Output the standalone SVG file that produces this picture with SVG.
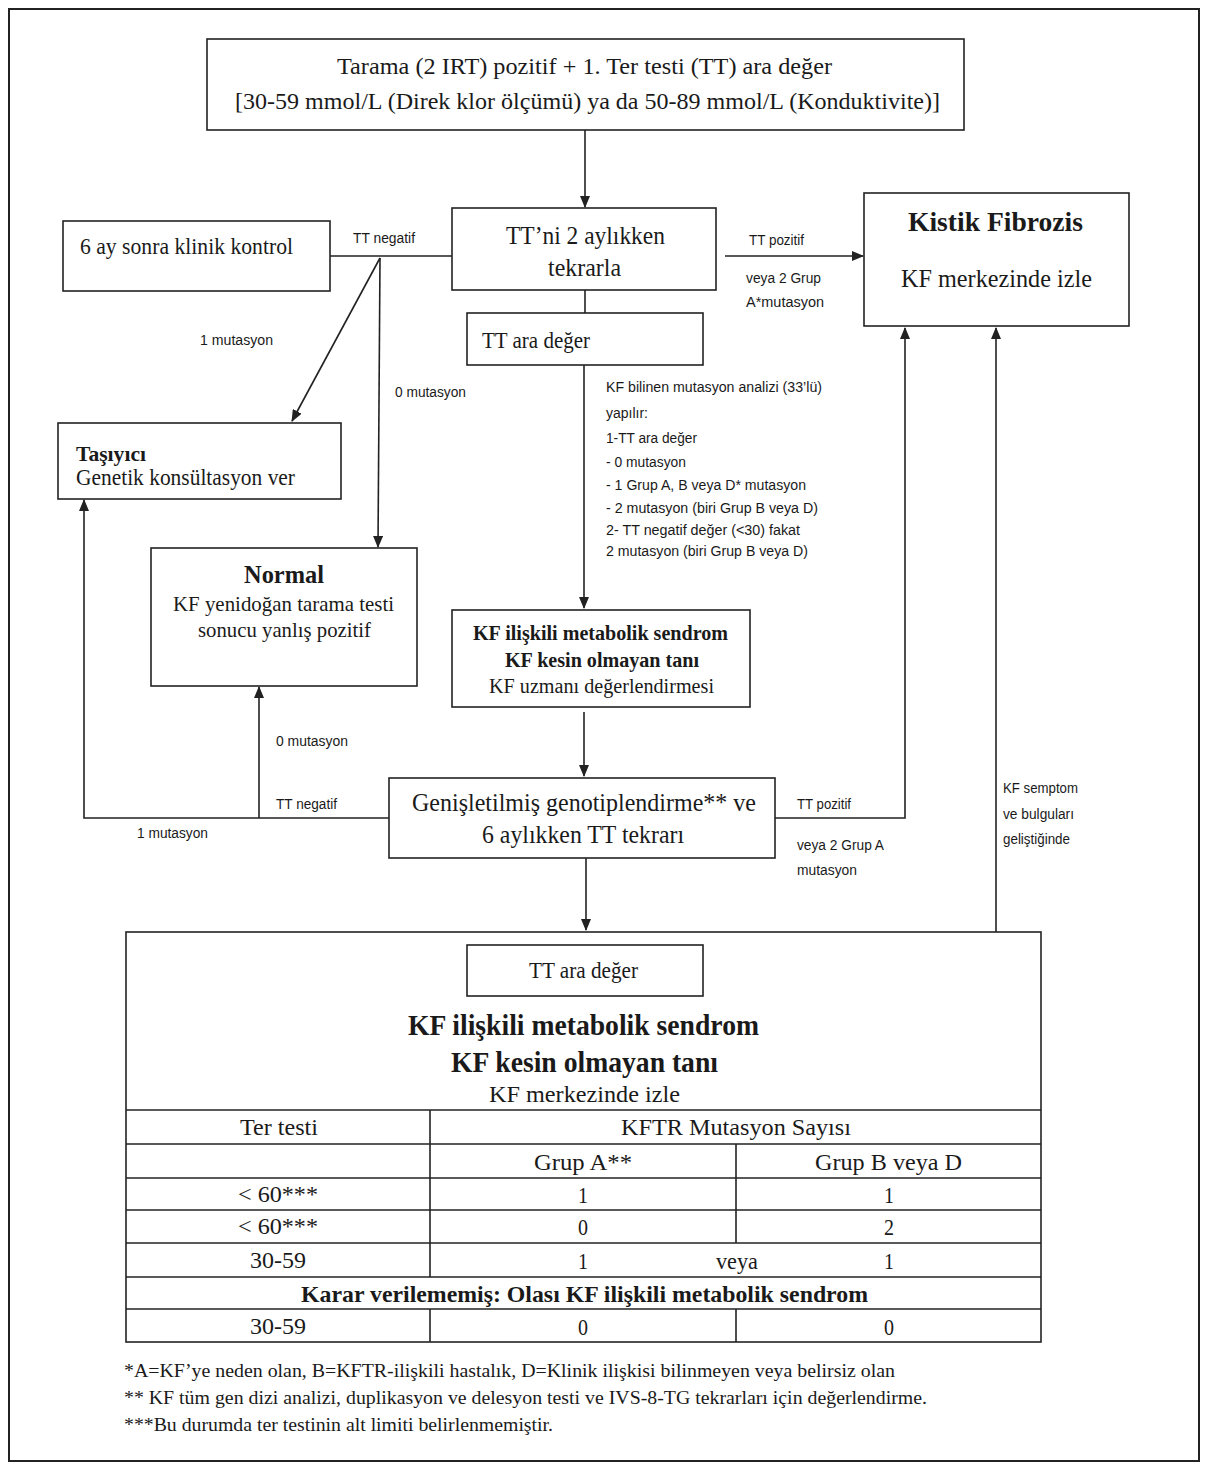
<svg xmlns="http://www.w3.org/2000/svg" width="1215" height="1471" viewBox="0 0 1215 1471">
<style>
.box{fill:#fff;stroke:#222;stroke-width:1.6}
.ln{fill:none;stroke:#222;stroke-width:1.6}
.s{font-family:"Liberation Serif","Times New Roman",serif;fill:#1a1a1a}
.b{font-weight:bold}
.m{text-anchor:middle}
.l{font-family:"Liberation Sans",Arial,sans-serif;font-size:14px;fill:#1a1a1a}
</style>
<defs>
<marker id="ah" markerUnits="userSpaceOnUse" markerWidth="12" markerHeight="10" refX="11" refY="5" orient="auto">
<path d="M0,0 L12,5 L0,10 z" fill="#222"/>
</marker>
</defs>
<rect x="0" y="0" width="1215" height="1471" fill="#fff"/>
<rect x="9" y="9" width="1190" height="1452" fill="none" stroke="#222" stroke-width="2"/>

<g id="connectors">
<line class="ln" x1="585" y1="130" x2="585" y2="207" marker-end="url(#ah)"/>
<line class="ln" x1="725" y1="256" x2="863" y2="256" marker-end="url(#ah)"/>
<line class="ln" x1="452" y1="256" x2="330" y2="256"/>
<line class="ln" x1="380" y1="258" x2="292" y2="421" marker-end="url(#ah)"/>
<line class="ln" x1="380" y1="258" x2="378" y2="547" marker-end="url(#ah)"/>
<line class="ln" x1="585" y1="290" x2="585" y2="313"/>
<line class="ln" x1="584" y1="365" x2="584" y2="608" marker-end="url(#ah)"/>
<line class="ln" x1="584" y1="712" x2="584" y2="776" marker-end="url(#ah)"/>
<polyline class="ln" points="389,818 84,818 84,500" marker-end="url(#ah)"/>
<line class="ln" x1="259" y1="818" x2="259" y2="687" marker-end="url(#ah)"/>
<polyline class="ln" points="775,818 905,818 905,328" marker-end="url(#ah)"/>
<line class="ln" x1="586" y1="858" x2="586" y2="930" marker-end="url(#ah)"/>
<line class="ln" x1="996" y1="932" x2="996" y2="328" marker-end="url(#ah)"/>
<text class="l" x="353" y="243" textLength="62" lengthAdjust="spacingAndGlyphs">TT negatif</text>
<text class="l" x="200" y="345" textLength="73" lengthAdjust="spacingAndGlyphs">1 mutasyon</text>
<text class="l" x="395" y="397" textLength="71" lengthAdjust="spacingAndGlyphs">0 mutasyon</text>
<text class="l" x="749" y="245" textLength="55" lengthAdjust="spacingAndGlyphs">TT pozitif</text>
<text class="l" x="746" y="283" textLength="75" lengthAdjust="spacingAndGlyphs">veya 2 Grup</text>
<text class="l" x="746" y="307" textLength="78" lengthAdjust="spacingAndGlyphs">A*mutasyon</text>
<text class="l" x="606" y="392" textLength="216" lengthAdjust="spacingAndGlyphs">KF bilinen  mutasyon analizi (33’lü)</text>
<text class="l" x="606" y="418" textLength="42" lengthAdjust="spacingAndGlyphs">yapılır:</text>
<text class="l" x="606" y="443" textLength="91" lengthAdjust="spacingAndGlyphs">1-TT ara değer</text>
<text class="l" x="606" y="467" textLength="80" lengthAdjust="spacingAndGlyphs">- 0 mutasyon</text>
<text class="l" x="606" y="490" textLength="200" lengthAdjust="spacingAndGlyphs">- 1 Grup A, B veya D* mutasyon</text>
<text class="l" x="606" y="513" textLength="212" lengthAdjust="spacingAndGlyphs">- 2 mutasyon (biri Grup B veya D)</text>
<text class="l" x="606" y="535" textLength="194" lengthAdjust="spacingAndGlyphs">2- TT negatif değer (&lt;30) fakat</text>
<text class="l" x="606" y="556" textLength="202" lengthAdjust="spacingAndGlyphs">2 mutasyon (biri Grup B veya D)</text>
<text class="l" x="276" y="746" textLength="72" lengthAdjust="spacingAndGlyphs">0 mutasyon</text>
<text class="l" x="276" y="809" textLength="61" lengthAdjust="spacingAndGlyphs">TT negatif</text>
<text class="l" x="137" y="838" textLength="71" lengthAdjust="spacingAndGlyphs">1 mutasyon</text>
<text class="l" x="797" y="809" textLength="54" lengthAdjust="spacingAndGlyphs">TT pozitif</text>
<text class="l" x="797" y="850" textLength="87" lengthAdjust="spacingAndGlyphs">veya 2 Grup A</text>
<text class="l" x="797" y="875" textLength="60" lengthAdjust="spacingAndGlyphs">mutasyon</text>
<text class="l" x="1003" y="793" textLength="75" lengthAdjust="spacingAndGlyphs">KF semptom</text>
<text class="l" x="1003" y="819" textLength="71" lengthAdjust="spacingAndGlyphs">ve bulguları</text>
<text class="l" x="1003" y="844" textLength="67" lengthAdjust="spacingAndGlyphs">geliştiğinde</text>
</g>

<g id="n-tarama">
<rect class="box" x="207" y="39" width="757" height="91"/>
<text class="s" x="337" y="74" font-size="24" textLength="495" lengthAdjust="spacingAndGlyphs">Tarama (2 IRT) pozitif + 1. Ter testi (TT) ara değer</text>
<text class="s" x="235" y="109" font-size="24" textLength="705" lengthAdjust="spacingAndGlyphs">[30-59 mmol/L (Direk klor ölçümü) ya da 50-89 mmol/L (Konduktivite)]</text>
</g>

<g id="n-tekrarla">
<rect class="box" x="452" y="208" width="264" height="82"/>
<text class="s" x="506" y="244" font-size="26" textLength="159" lengthAdjust="spacingAndGlyphs">TT’ni 2 aylıkken</text>
<text class="s" x="548" y="276" font-size="26" textLength="73" lengthAdjust="spacingAndGlyphs">tekrarla</text>
</g>

<g id="n-klinik">
<rect class="box" x="63" y="221" width="267" height="70"/>
<text class="s" x="80" y="254" font-size="24" textLength="213" lengthAdjust="spacingAndGlyphs">6 ay sonra klinik kontrol</text>
</g>

<g id="n-kf">
<rect class="box" x="864" y="193" width="265" height="133"/>
<text class="s b" x="908" y="231" font-size="27" textLength="175" lengthAdjust="spacingAndGlyphs">Kistik Fibrozis</text>
<text class="s" x="901" y="287" font-size="26" textLength="191" lengthAdjust="spacingAndGlyphs">KF merkezinde izle</text>
</g>

<g id="n-ttara1">
<rect class="box" x="467" y="313" width="236" height="52"/>
<text class="s" x="482" y="348" font-size="24" textLength="108" lengthAdjust="spacingAndGlyphs">TT ara değer</text>
</g>

<g id="n-tasiyici">
<rect class="box" x="58" y="423" width="283" height="76"/>
<text class="s b" x="76" y="461" font-size="22" textLength="70" lengthAdjust="spacingAndGlyphs">Taşıyıcı</text>
<text class="s" x="76" y="485" font-size="23" textLength="219" lengthAdjust="spacingAndGlyphs">Genetik konsültasyon  ver</text>
</g>

<g id="n-normal">
<rect class="box" x="151" y="548" width="266" height="138"/>
<text class="s b" x="244" y="583" font-size="25" textLength="80" lengthAdjust="spacingAndGlyphs">Normal</text>
<text class="s" x="173" y="611" font-size="21" textLength="221" lengthAdjust="spacingAndGlyphs">KF yenidoğan tarama testi</text>
<text class="s" x="198" y="637" font-size="21" textLength="173" lengthAdjust="spacingAndGlyphs">sonucu yanlış pozitif</text>
</g>

<g id="n-metabolik">
<rect class="box" x="452" y="610" width="298" height="97"/>
<text class="s b" x="473" y="640" font-size="20" textLength="255" lengthAdjust="spacingAndGlyphs">KF ilişkili metabolik sendrom</text>
<text class="s b" x="505" y="667" font-size="20" textLength="194" lengthAdjust="spacingAndGlyphs">KF kesin olmayan tanı</text>
<text class="s" x="489" y="693" font-size="20" textLength="225" lengthAdjust="spacingAndGlyphs">KF uzmanı değerlendirmesi</text>
</g>

<g id="n-genis">
<rect class="box" x="389" y="778" width="386" height="80"/>
<text class="s" x="412" y="811" font-size="26" textLength="344" lengthAdjust="spacingAndGlyphs">Genişletilmiş genotiplendirme** ve</text>
<text class="s" x="482" y="843" font-size="26" textLength="202" lengthAdjust="spacingAndGlyphs">6 aylıkken TT tekrarı</text>
</g>

<g id="n-sonuc">
<rect class="box" x="126" y="932" width="915" height="410"/>
<rect class="box" x="467" y="945" width="236" height="51"/>
<text class="s" x="529" y="978" font-size="24" textLength="109" lengthAdjust="spacingAndGlyphs">TT ara değer</text>
<text class="s b" x="408" y="1035" font-size="30" textLength="351" lengthAdjust="spacingAndGlyphs">KF ilişkili metabolik sendrom</text>
<text class="s b" x="451" y="1072" font-size="30" textLength="267" lengthAdjust="spacingAndGlyphs">KF kesin olmayan tanı</text>
<text class="s" x="489" y="1102" font-size="24" textLength="191" lengthAdjust="spacingAndGlyphs">KF merkezinde izle</text>
<g class="ln">
<line x1="126" y1="1110" x2="1041" y2="1110"/>
<line x1="126" y1="1144" x2="1041" y2="1144"/>
<line x1="126" y1="1178" x2="1041" y2="1178"/>
<line x1="126" y1="1210" x2="1041" y2="1210"/>
<line x1="126" y1="1243" x2="1041" y2="1243"/>
<line x1="126" y1="1277" x2="1041" y2="1277"/>
<line x1="126" y1="1309" x2="1041" y2="1309"/>
<line x1="430" y1="1110" x2="430" y2="1277"/>
<line x1="430" y1="1309" x2="430" y2="1342"/>
<line x1="736" y1="1144" x2="736" y2="1243"/>
<line x1="736" y1="1309" x2="736" y2="1342"/>
</g>
<text class="s" x="240" y="1135" font-size="24" textLength="78" lengthAdjust="spacingAndGlyphs">Ter testi</text>
<text class="s" x="621" y="1135" font-size="24" textLength="230" lengthAdjust="spacingAndGlyphs">KFTR Mutasyon Sayısı</text>
<text class="s" x="534" y="1170" font-size="24" textLength="98" lengthAdjust="spacingAndGlyphs">Grup A**</text>
<text class="s" x="815" y="1170" font-size="24" textLength="147" lengthAdjust="spacingAndGlyphs">Grup B veya D</text>
<text class="s" x="238" y="1202" font-size="24" textLength="80" lengthAdjust="spacingAndGlyphs">&lt; 60***</text>
<text class="s m" x="583" y="1203" font-size="24" textLength="10" lengthAdjust="spacingAndGlyphs">1</text>
<text class="s m" x="889" y="1203" font-size="24" textLength="10" lengthAdjust="spacingAndGlyphs">1</text>
<text class="s" x="238" y="1234" font-size="24" textLength="80" lengthAdjust="spacingAndGlyphs">&lt; 60***</text>
<text class="s m" x="583" y="1235" font-size="24" textLength="10" lengthAdjust="spacingAndGlyphs">0</text>
<text class="s m" x="889" y="1235" font-size="24" textLength="10" lengthAdjust="spacingAndGlyphs">2</text>
<text class="s" x="250" y="1268" font-size="24" textLength="56" lengthAdjust="spacingAndGlyphs">30-59</text>
<text class="s m" x="583" y="1269" font-size="24" textLength="10" lengthAdjust="spacingAndGlyphs">1</text>
<text class="s m" x="737" y="1269" font-size="24" textLength="42" lengthAdjust="spacingAndGlyphs">veya</text>
<text class="s m" x="889" y="1269" font-size="24" textLength="10" lengthAdjust="spacingAndGlyphs">1</text>
<text class="s b" x="301" y="1302" font-size="24" textLength="567" lengthAdjust="spacingAndGlyphs">Karar verilememiş: Olası KF ilişkili metabolik sendrom</text>
<text class="s" x="250" y="1334" font-size="24" textLength="56" lengthAdjust="spacingAndGlyphs">30-59</text>
<text class="s m" x="583" y="1335" font-size="24" textLength="10" lengthAdjust="spacingAndGlyphs">0</text>
<text class="s m" x="889" y="1335" font-size="24" textLength="10" lengthAdjust="spacingAndGlyphs">0</text>
</g>

<g id="footnotes">
<text class="s" x="124" y="1377" font-size="19" textLength="771" lengthAdjust="spacingAndGlyphs">*A=KF’ye neden olan, B=KFTR-ilişkili  hastalık, D=Klinik ilişkisi  bilinmeyen veya belirsiz  olan</text>
<text class="s" x="124" y="1404" font-size="19" textLength="803" lengthAdjust="spacingAndGlyphs">** KF tüm gen dizi  analizi, duplikasyon ve delesyon testi ve IVS-8-TG tekrarları için değerlendirme.</text>
<text class="s" x="124" y="1431" font-size="19" textLength="429" lengthAdjust="spacingAndGlyphs">***Bu durumda ter testinin alt limiti belirlenmemiştir.</text>
</g>
</svg>
